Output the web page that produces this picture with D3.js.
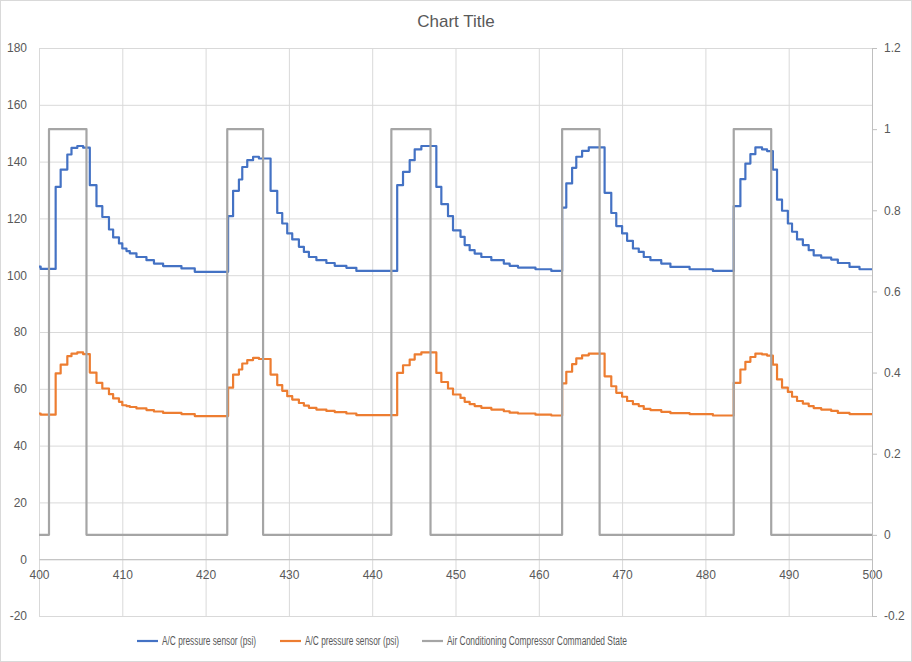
<!DOCTYPE html>
<html>
<head>
<meta charset="utf-8">
<script src="https://cdn.jsdelivr.net/npm/d3@7"></script>
<style>
  body { margin: 0; background: #fff; }
  text { font-family: "Liberation Sans", Arial, sans-serif; fill: #595959; }
</style>
</head>
<body>
<div id="chart"></div>
<script>
// frame and plot area
const FRAME_WIDTH = 912;
const FRAME_HEIGHT = 662;
const PLOT = {left: 39, right: 872, top: 48, bottom: 616};

// time stamps (s) where each pressure step starts
const TIME = [
  400.0, 400.2, 402.0, 402.6, 403.4, 403.9, 404.6, 405.3, 406.1, 406.9, 407.6, 408.4, 408.9, 409.6, 410.0, 410.5, 410.9, 411.7, 412.9, 413.8, 414.9, 417.1, 418.7,
  422.7, 423.3, 424.0, 424.4, 425.0, 425.7, 426.4, 427.8, 428.6, 429.2, 429.8, 430.4, 431.2, 431.8, 432.4, 433.3, 434.5, 435.5, 436.9, 438.1,
  443.0, 443.7, 444.5, 445.1, 445.9, 447.7, 448.3, 449.1, 449.7, 450.6, 451.1, 451.7, 452.3, 453.1, 454.3, 455.8, 456.5, 457.5, 459.6, 461.5,
  462.8, 463.3, 464.0, 464.5, 465.2, 466.0, 467.9, 468.7, 469.3, 470.0, 470.6, 471.3, 472.0, 472.6, 473.4, 474.7, 475.8, 478.1, 480.9,
  483.4, 484.2, 484.8, 485.4, 486.0, 486.8, 487.4, 488.1, 488.6, 489.2, 489.9, 490.4, 491.0, 491.7, 492.4, 493.0, 493.9, 495.1, 495.9, 497.3, 498.5, 500.0
];

// first A/C pressure sensor (psi)
const PRESSURE_1 = [
  103.0, 102.2, 131.1, 137.2, 142.5, 144.8, 145.5, 144.9, 131.7, 124.3, 120.5, 116.1, 113.3, 111.2, 109.4, 108.5, 107.7, 106.4, 105.3, 104.1, 103.2, 102.4, 101.2,
  120.8, 129.7, 133.7, 138.1, 140.5, 141.7, 141.1, 129.7, 121.9, 118.2, 114.7, 112.6, 110.0, 108.2, 106.4, 105.3, 104.3, 103.3, 102.6, 101.5,
  131.7, 136.4, 140.5, 144.3, 145.5, 131.1, 125.0, 120.8, 115.8, 113.5, 110.6, 108.8, 107.6, 106.4, 105.3, 104.1, 103.3, 102.7, 102.1, 101.5,
  123.8, 132.3, 137.8, 141.7, 143.8, 145.0, 129.0, 121.9, 117.3, 114.7, 112.1, 109.4, 108.2, 106.4, 105.3, 104.1, 102.9, 102.1, 101.5,
  124.3, 133.8, 139.3, 142.6, 145.0, 144.3, 143.7, 137.2, 126.6, 122.7, 118.2, 115.3, 112.6, 110.6, 108.8, 107.0, 106.2, 105.5, 104.3, 102.9, 102.1, 102.1
];

// second A/C pressure sensor (psi)
const PRESSURE_2 = [
  51.3, 50.9, 65.4, 68.5, 71.5, 72.4, 72.8, 72.2, 65.7, 62.1, 60.1, 58.1, 56.6, 55.4, 54.2, 53.9, 53.6, 53.1, 52.5, 52.0, 51.5, 51.1, 50.4,
  60.4, 65.0, 66.8, 68.9, 70.1, 70.9, 70.5, 65.0, 61.3, 59.3, 57.4, 56.2, 55.0, 54.1, 53.3, 52.7, 52.2, 51.8, 51.3, 50.7,
  65.6, 68.3, 70.3, 72.1, 72.8, 65.6, 62.4, 60.1, 58.0, 56.8, 55.4, 54.6, 53.9, 53.3, 52.7, 52.1, 51.6, 51.3, 50.9, 50.6,
  61.9, 66.0, 68.7, 70.7, 71.8, 72.4, 64.4, 60.9, 58.6, 57.2, 55.7, 54.6, 53.9, 52.9, 52.5, 51.9, 51.4, 51.1, 50.6,
  62.1, 66.8, 69.5, 71.2, 72.4, 72.1, 71.7, 68.5, 63.3, 60.4, 58.9, 57.2, 55.7, 54.8, 53.9, 53.2, 52.7, 52.2, 51.5, 51.1, 51.1, 51.1
];

// compressor commanded state (secondary axis)
const STATE_TIME = [400.0, 401.2, 405.7, 422.6, 426.9, 442.3, 447.0, 462.8, 467.3, 483.4, 487.9, 500.0];
const STATE = [0, 1, 0, 1, 0, 1, 0, 1, 0, 1, 0, 0];

// tick values
const X_TICKS = [400, 410, 420, 430, 440, 450, 460, 470, 480, 490, 500];
const Y_TICKS = [-20, 0, 20, 40, 60, 80, 100, 120, 140, 160, 180];
const Y2_TICKS = [-0.2, 0, 0.2, 0.4, 0.6, 0.8, 1, 1.2];

const SERIES_NAMES = ["A/C pressure sensor (psi)", "A/C pressure sensor (psi)", "Air Conditioning Compressor Commanded State"];
const COLORS = ["#4472C4", "#ED7D31", "#A5A5A5"];

const svg = d3.select("#chart")
  .append("svg")
    .attr("width", FRAME_WIDTH)
    .attr("height", FRAME_HEIGHT);

// chart border
svg.append("rect")
  .attr("x", 0.5).attr("y", 0.5)
  .attr("width", FRAME_WIDTH - 1).attr("height", FRAME_HEIGHT - 1)
  .attr("fill", "none").attr("stroke", "#d9d9d9");

// scales
const X = d3.scaleLinear().domain([400, 500]).range([PLOT.left, PLOT.right]);
const Y = d3.scaleLinear().domain([-20, 180]).range([PLOT.bottom, PLOT.top]);
const Y2 = d3.scaleLinear().domain([-0.2, 1.2]).range([PLOT.bottom, PLOT.top]);

// gridlines
svg.append("g")
  .attr("transform", "translate(0," + PLOT.bottom + ")")
  .call(d3.axisBottom(X).tickValues(X_TICKS).tickSize(-(PLOT.bottom - PLOT.top)).tickFormat(""))
  .call(g => g.select(".domain").remove())
  .call(g => g.selectAll("line").attr("stroke", "#d9d9d9"));

svg.append("g")
  .attr("transform", "translate(" + PLOT.left + ",0)")
  .call(d3.axisLeft(Y).tickValues(Y_TICKS).tickSize(-(PLOT.right - PLOT.left)).tickFormat(""))
  .call(g => g.select(".domain").remove())
  .call(g => g.selectAll("line").attr("stroke", "#d9d9d9"));

// x axis crossing at 0
svg.append("g")
  .attr("transform", "translate(0," + Y(0) + ")")
  .call(d3.axisBottom(X).tickValues(X_TICKS).tickSize(0).tickPadding(11).tickFormat(d => String(d)))
  .call(g => g.select(".domain").attr("stroke", "#bfbfbf"))
  .call(g => g.selectAll("text").attr("font-size", 12).attr("fill", "#595959").attr("font-family", null));

// left axis
svg.append("g")
  .attr("transform", "translate(" + PLOT.left + ",0)")
  .call(d3.axisLeft(Y).tickValues(Y_TICKS).tickSize(0).tickPadding(12).tickFormat(d => String(d)))
  .call(g => g.select(".domain").remove())
  .call(g => g.selectAll("text").attr("font-size", 12).attr("fill", "#595959").attr("font-family", null));

// right axis
svg.append("g")
  .attr("transform", "translate(" + PLOT.right + ",0)")
  .call(d3.axisRight(Y2).tickValues(Y2_TICKS).tickSize(5).tickSizeOuter(0).tickPadding(7).tickFormat(d => String(d)))
  .call(g => g.select(".domain").attr("stroke", "#bfbfbf"))
  .call(g => g.selectAll("line").attr("stroke", "#bfbfbf"))
  .call(g => g.selectAll("text").attr("font-size", 12).attr("fill", "#595959").attr("font-family", null));

// lines
const pressureLine = (values) => d3.line()
  .x((d, i) => X(TIME[i]))
  .y(d => Y(d))
  .curve(d3.curveStepAfter)(values);

svg.append("path")
  .attr("d", pressureLine(PRESSURE_1))
  .attr("fill", "none").attr("stroke", COLORS[0]).attr("stroke-width", 2.2)
  .attr("stroke-linejoin", "round");

svg.append("path")
  .attr("d", pressureLine(PRESSURE_2))
  .attr("fill", "none").attr("stroke", COLORS[1]).attr("stroke-width", 2.2)
  .attr("stroke-linejoin", "round");

const stateLine = d3.line()
  .x((d, i) => X(STATE_TIME[i]))
  .y(d => Y2(d))
  .curve(d3.curveStepAfter);

svg.append("path")
  .attr("d", stateLine(STATE))
  .attr("fill", "none").attr("stroke", COLORS[2]).attr("stroke-width", 2.2)
  .attr("stroke-linejoin", "round");

// title
svg.append("text")
  .attr("x", 456).attr("y", 27)
  .attr("text-anchor", "middle")
  .attr("font-size", 17)
  .text("Chart Title");

// legend
const LEGEND_X = [137, 280, 422];
const LEGEND_W = [94, 94, 180];
const legend = svg.selectAll(".legend")
  .data(SERIES_NAMES)
  .enter()
  .append("g")
    .attr("transform", (d, i) => "translate(" + LEGEND_X[i] + ",641)");

legend.append("line")
  .attr("x1", 0).attr("x2", 21)
  .attr("stroke", (d, i) => COLORS[i]).attr("stroke-width", 2.2);

legend.append("text")
  .attr("x", 25).attr("dy", "0.35em")
  .attr("font-size", 12)
  .attr("textLength", (d, i) => LEGEND_W[i])
  .attr("lengthAdjust", "spacingAndGlyphs")
  .text(d => d);
</script>
</body>
</html>
